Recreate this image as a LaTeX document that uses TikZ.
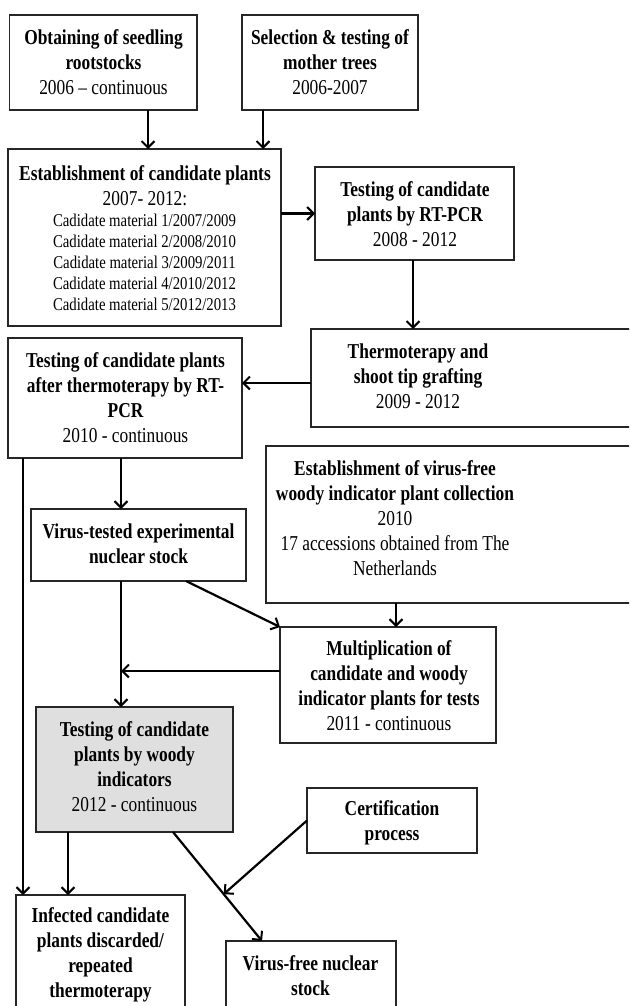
\documentclass[tikz,border=0pt]{standalone}
\usepackage{fontspec}
\setmainfont{Liberation Serif}[FakeStretch=0.82]
\usetikzlibrary{arrows.meta,calc}
\tikzset{
  box/.style={draw=black!85, line width=1.2pt, anchor=north west, inner sep=0pt, outer sep=0pt},
  greybox/.style={box, fill=gray!25},
  txt/.style={align=center, inner sep=0pt, font=\fontsize{21.2}{25}\selectfont},
  smalltxt/.style={align=center, inner sep=0pt, font=\fontsize{18}{21}\selectfont},
  arr/.style={line width=2.2pt, -{Straight Barb[length=6.5pt,width=13pt,line width=2pt]}}
}
\begin{document}
\begin{tikzpicture}[x=1pt,y=-1pt]
\useasboundingbox (0,0) rectangle (629,1006);
\clip (0,0) rectangle (629,1006);
\fill[white] (0,0) rectangle (629,1006);

% boxes
\node[box, minimum width=187.5pt, minimum height=95pt] (obt) at (9.5,15) {};
\node[box, minimum width=176pt, minimum height=95pt] (sel) at (242,15) {};
\node[box, minimum width=273pt, minimum height=177pt] (est) at (8,149) {};
\node[box, minimum width=199pt, minimum height=93pt] (rtp) at (315,167) {};
\node[box, minimum width=349pt, minimum height=98pt] (thm) at (311,329) {};
\node[box, minimum width=234pt, minimum height=120pt] (aft) at (8,338) {};
\node[box, minimum width=394pt, minimum height=157pt] (vfc) at (266,446) {};
\node[box, minimum width=215pt, minimum height=72pt] (vte) at (31,509) {};
\node[box, minimum width=216pt, minimum height=116pt] (mul) at (280,627) {};
\node[greybox, minimum width=197pt, minimum height=125pt] (woo) at (36,707) {};
\node[box, minimum width=170pt, minimum height=65pt] (cer) at (307,788) {};
\node[box, minimum width=169pt, minimum height=135pt] (inf) at (16,895) {};
\node[box, minimum width=170pt, minimum height=89pt] (vfn) at (226,941) {};

% texts
\node[txt] (obtT) at (103.5,62) {\bfseries Obtaining of seedling\\\bfseries rootstocks\\2006 – continuous};
\node[txt] (selT) at (330,62) {\bfseries Selection \& testing of\\\bfseries mother trees\\2006-2007};
\node[txt] (estT) at (145,185.5) {\bfseries Establishment of candidate plants\\2007- 2012:};
\node[smalltxt] (estS) at (144.5,262) {Cadidate material 1/2007/2009\\Cadidate material 2/2008/2010\\Cadidate material 3/2009/2011\\Cadidate material 4/2010/2012\\Cadidate material 5/2012/2013};
\node[txt] (rtpT) at (415,214.5) {\bfseries Testing of candidate\\\bfseries plants by RT-PCR\\2008 - 2012};
\node[txt] (thmT) at (418,376.5) {\bfseries Thermoterapy and\\\bfseries shoot tip grafting\\2009 - 2012};
\node[txt] (aftT) at (125.5,398) {\bfseries Testing of candidate plants\\\bfseries after thermoterapy by RT-\\\bfseries PCR\\2010 - continuous};
\node[txt] (vfcT) at (395,518.5) {\bfseries Establishment of virus-free\\\bfseries woody indicator plant collection\\2010\\17 accessions obtained from The\\Netherlands};
\node[txt] (vteT) at (138.5,544) {\bfseries Virus-tested experimental\\\bfseries nuclear stock};
\node[txt] (mulT) at (389,686) {\bfseries Multiplication of\\\bfseries candidate and woody\\\bfseries indicator plants for tests\\2011 - continuous};
\node[txt] (wooT) at (134.5,767) {\bfseries Testing of candidate\\\bfseries plants by woody\\\bfseries indicators\\2012 - continuous};
\node[txt] (cerT) at (392,822.5) {\bfseries Certification\\\bfseries process};
\node[txt] (infT) at (100.5,955) {\bfseries Infected candidate\\\bfseries plants discarded/\\\bfseries repeated\\\bfseries thermoterapy};
\node[txt] (vfnT) at (310.5,975.5) {\bfseries Virus-free nuclear\\\bfseries stock};

% helper columns/rows
\coordinate (c148) at (148,0);
\coordinate (c263) at (263,0);
\coordinate (c413) at (413,0);
\coordinate (c23) at (23,0);
\coordinate (c121) at (121,0);
\coordinate (c186) at (186,0);
\coordinate (c396) at (396,0);
\coordinate (c68) at (68,0);
\coordinate (c173) at (173,0);
\coordinate (c262) at (262,0);
\coordinate (r383) at (0,383);
\coordinate (m671) at (121,671);

% connectors
\draw[arr] (c148 |- obt.south) -- (c148 |- est.north);
\draw[arr] (c263 |- sel.south) -- (c263 |- est.north);
\draw[arr] (est.east |- rtp.west) -- (rtp.west);
\draw[arr] (c413 |- rtp.south) -- (c413 |- thm.north);
\draw[arr] (thm.west |- r383) -- (aft.east |- r383);
\draw[arr] (c23 |- aft.south) -- (c23 |- inf.north);
\draw[arr] (c121 |- aft.south) -- (c121 |- vte.north);
\draw[arr] (c121 |- vte.south) -- (c121 |- woo.north);
\draw[arr] (c186 |- vte.south) -- (mul.north west);
\draw[arr] (c396 |- vfc.south) -- (c396 |- mul.north);
\draw[arr] (mul.west |- m671) -- (m671);
\draw[arr] (c68 |- woo.south) -- (c68 |- inf.north);
\coordinate (ws) at (c173 |- woo.south);
\coordinate (vn) at (c262 |- vfn.north);
\draw[arr] (ws) -- (vn);
\coordinate (jn) at ($(ws)!0.57!(vn)$);
\draw[arr] (cer.west) -- (jn);
\end{tikzpicture}
\end{document}
